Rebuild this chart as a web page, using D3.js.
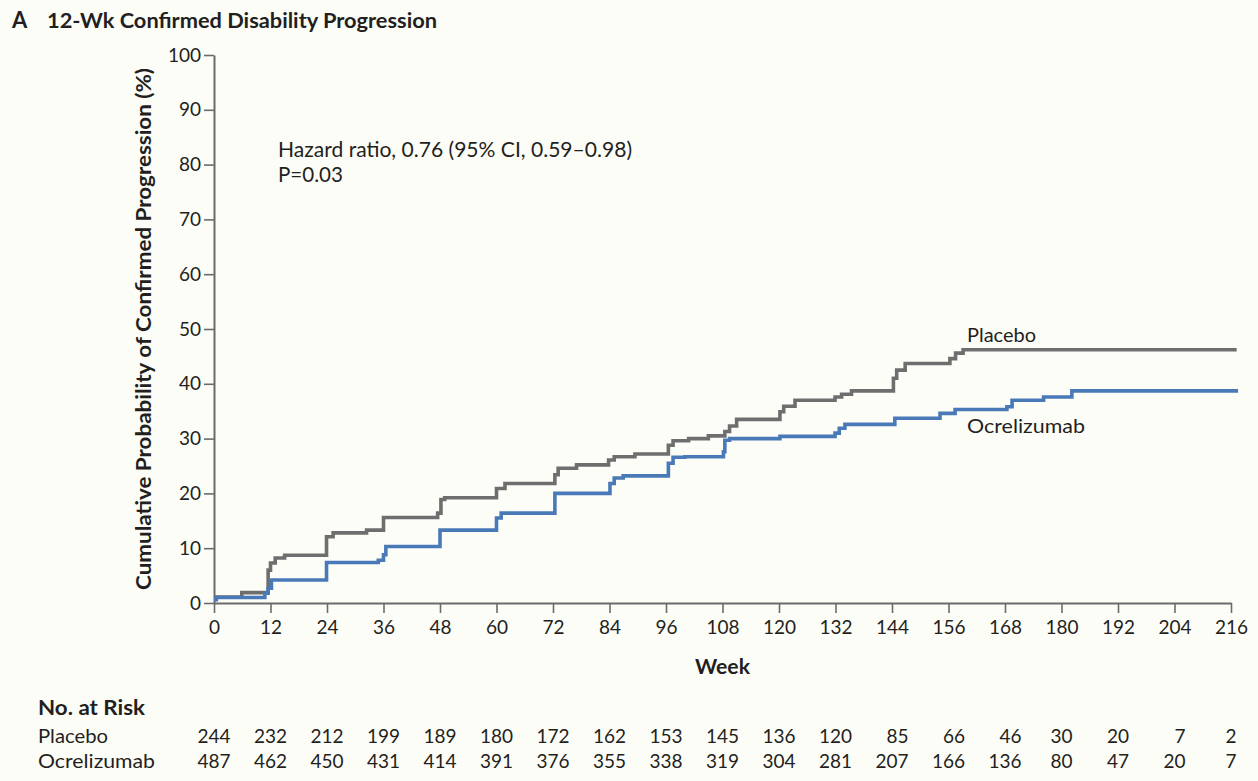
<!DOCTYPE html>
<html>
<head>
<meta charset="utf-8">
<script src="https://cdn.jsdelivr.net/npm/d3@7/dist/d3.min.js"></script>
<style>
  html, body { margin: 0; padding: 0; background: #fdfdf8; }
  svg { display: block; }
  text { font-family: Lato, "Open Sans", "Liberation Sans", sans-serif; fill: #231f20; }
</style>
</head>
<body>
<svg id="chart" width="1258" height="781"></svg>
<script>
// ---------------- data ----------------
const xTicks = [0, 12, 24, 36, 48, 60, 72, 84, 96, 108, 120, 132, 144, 156, 168, 180, 192, 204, 216];
const yTicks = [0, 10, 20, 30, 40, 50, 60, 70, 80, 90, 100];

// Kaplan-Meier step points [week, cumulative %]
const placeboSteps = [
  [0, 1.1], [5.9, 1.9], [11.5, 6.0], [12.0, 7.3], [13.0, 8.2], [15.0, 8.7],
  [23.9, 12.1], [25.3, 12.8], [32.4, 13.3], [36.0, 15.6], [47.5, 16.4], [48.2, 18.9],
  [49.0, 19.2], [60.0, 20.9], [61.8, 21.8], [72.4, 23.4], [73.1, 24.6], [77.0, 25.2],
  [83.8, 26.1], [85.0, 26.7], [89.4, 27.2], [96.5, 28.8], [97.5, 29.6], [100.8, 30.0],
  [105.0, 30.5], [108.5, 31.3], [109.5, 32.3], [111.0, 33.5], [120.2, 34.9], [121.0, 35.9],
  [123.4, 37.0], [131.9, 37.6], [133.3, 38.1], [135.4, 38.7], [144.3, 41.0], [145.0, 42.5],
  [146.8, 43.7], [156.3, 44.6], [157.5, 45.6], [159.1, 46.2], [217.2, 46.2]
];
const ocrelizumabSteps = [
  [0, 0.6], [0.5, 1.0], [10.8, 1.8], [11.5, 2.7], [12.2, 4.2], [23.9, 7.4],
  [34.9, 7.8], [36.0, 8.8], [36.5, 10.3], [48.0, 13.3], [60.0, 15.5], [61.0, 16.4],
  [72.4, 20.0], [84.1, 21.8], [85.0, 22.8], [86.9, 23.2], [96.5, 25.5], [97.5, 26.6],
  [100.0, 26.7], [108.2, 27.6], [108.5, 29.7], [109.5, 30.0], [120.2, 30.4], [131.9, 31.0],
  [132.8, 31.9], [134.0, 32.6], [144.6, 33.7], [154.2, 34.6], [157.4, 35.3], [168.4, 35.8],
  [169.5, 37.0], [176.2, 37.6], [182.2, 38.7], [217.5, 38.7]
];

const riskGroups = ["Placebo", "Ocrelizumab"];
const placeboAtRisk = [244, 232, 212, 199, 189, 180, 172, 162, 153, 145, 136, 120, 85, 66, 46, 30, 20, 7, 2];
const ocrelizumabAtRisk = [487, 462, 450, 431, 414, 391, 376, 355, 338, 319, 304, 281, 207, 166, 136, 80, 47, 20, 7];

const panelLetter = "A";
const titleText = "12-Wk Confirmed Disability Progression";
const yTitle = "Cumulative Probability of Confirmed Progression (%)";
const xTitle = "Week";
const hazardLines = ["Hazard ratio, 0.76 (95% CI, 0.59\u20130.98)", "P=0.03"];
const riskTitle = "No. at Risk";

// ---------------- layout ----------------
const svg = d3.select("#chart");
const x = d3.scaleLinear().domain([0, 216]).range([214, 1231]);
const y = d3.scaleLinear().domain([0, 100]).range([603, 55]);
const axisColor = "#6b6b6b";

function fit(sel, w) {
  return sel.attr("textLength", w).attr("lengthAdjust", "spacingAndGlyphs");
}

// Title
svg.append("text").attr("x", 12).attr("y", 28)
  .style("font-weight", 700).style("font-size", "22px").text(panelLetter);
fit(svg.append("text").attr("x", 47).attr("y", 28)
  .style("font-weight", 700).style("font-size", "21px").text(titleText), 390);

// Y axis
const gy = svg.append("g").attr("transform", `translate(${x(0)},0)`)
  .call(d3.axisLeft(y).tickValues(yTicks).tickSize(10).tickSizeOuter(0).tickPadding(3));
// X axis
const gx = svg.append("g").attr("transform", `translate(0,${y(0)})`)
  .call(d3.axisBottom(x).tickValues(xTicks).tickSize(10).tickSizeOuter(0).tickPadding(8));

[gx, gy].forEach(g => {
  g.select(".domain").attr("stroke", axisColor).attr("stroke-width", 2);
  g.selectAll(".tick line").attr("stroke", axisColor).attr("stroke-width", 1.6);
  g.selectAll(".tick text").style("font-family", "Lato, 'Open Sans', sans-serif")
    .style("font-size", "19px").attr("fill", "#231f20");
});

// Axis titles
fit(svg.append("text")
  .attr("transform", `translate(151,${(y(0) + y(100)) / 2}) rotate(-90)`)
  .attr("text-anchor", "middle")
  .style("font-weight", 700).style("font-size", "21px").text(yTitle), 522);
fit(svg.append("text").attr("x", (x(0) + x(216)) / 2).attr("y", 674)
  .attr("text-anchor", "middle")
  .style("font-weight", 700).style("font-size", "20px").text(xTitle), 55);

// Curves
const line = d3.line().x(d => x(d[0])).y(d => y(d[1])).curve(d3.curveStepAfter);
svg.append("path").datum(placeboSteps).attr("d", line)
  .attr("fill", "none").attr("stroke", "#6e6e6e").attr("stroke-width", 3.6);
svg.append("path").datum(ocrelizumabSteps).attr("d", line)
  .attr("fill", "none").attr("stroke", "#4a79b7").attr("stroke-width", 3.6);

// Curve labels
fit(svg.append("text").attr("x", 967).attr("y", 342).style("font-size", "20px").text("Placebo"), 69);
fit(svg.append("text").attr("x", 967).attr("y", 433).style("font-size", "20px").text("Ocrelizumab"), 118);

// Hazard text
fit(svg.append("text").attr("x", 278).attr("y", 157).style("font-size", "21px").text(hazardLines[0]), 354);
fit(svg.append("text").attr("x", 278).attr("y", 182).style("font-size", "21px").text(hazardLines[1]), 65);

// Risk table
fit(svg.append("text").attr("x", 38).attr("y", 715)
  .style("font-weight", 700).style("font-size", "21px").text(riskTitle), 107);
const rows = [placeboAtRisk, ocrelizumabAtRisk];
const rowY = [743, 768];
const rowLabelW = [70, 117];
riskGroups.forEach((g, i) => {
  fit(svg.append("text").attr("x", 38).attr("y", rowY[i]).style("font-size", "20px").text(g), rowLabelW[i]);
});
const digitW = 11;
xTicks.forEach((t, j) => {
  const maxLen = d3.max(rows, r => String(r[j]).length);
  const rightEdge = x(t) + maxLen * digitW / 2;
  rows.forEach((r, i) => {
    svg.append("text").attr("x", rightEdge).attr("y", rowY[i])
      .attr("text-anchor", "end").style("font-size", "19px").text(r[j]);
  });
});
</script>
</body>
</html>
